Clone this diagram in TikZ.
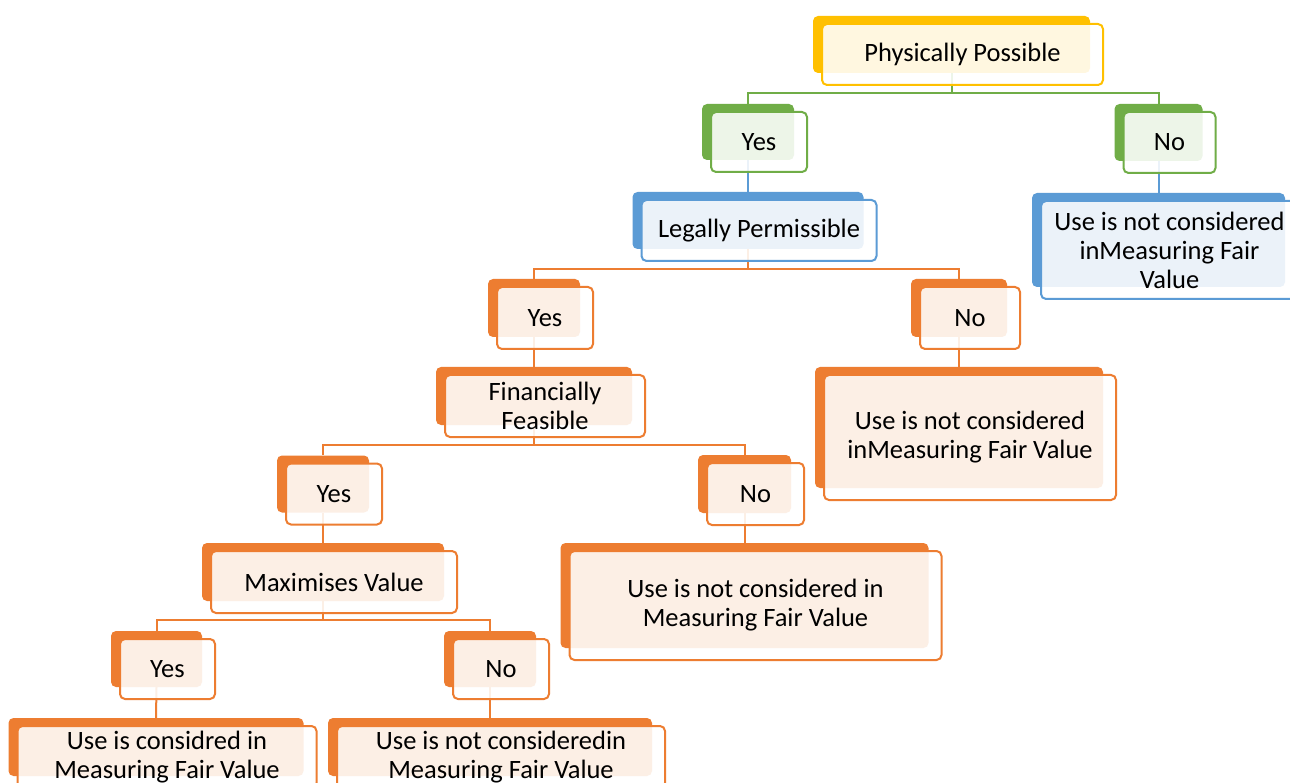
\documentclass[tikz,border=0pt]{standalone}
\usepackage{fontspec}
\setmainfont{Carlito}
\definecolor{cyel}{HTML}{FFC000}
\definecolor{cgrn}{HTML}{70AD47}
\definecolor{cblu}{HTML}{5B9BD5}
\definecolor{corg}{HTML}{ED7D31}
\pgfdeclarelayer{bg}
\pgfsetlayers{bg,main}
\tikzset{
  backbox/.style={draw=none, fill=#1, rounded corners=5pt, inner sep=0pt},
  frontbox/.style={draw=#1, line width=2pt, fill=white, fill opacity=0.88, text opacity=1,
    rounded corners=5pt, inner sep=0pt, align=center, font=\fontsize{26.5}{29}\selectfont},
  link/.style={draw=#1, line width=2pt},
}
\newcommand\tbox[7]{%
  \node[backbox=#2, minimum width=#5pt, minimum height=#6pt] (#1) at (#3,#4) {};
  \node[frontbox=#2, minimum width=#5pt+4pt, minimum height=#6pt+4pt] (#1-f) at ([shift={(11,10)}]#1) {#7};
}
\begin{document}
\begin{tikzpicture}[x=1pt,y=-1pt]
\useasboundingbox (0,0) rectangle (1290,783);
\begin{pgfonlayer}{bg}
\fill[white] (0,0) rectangle (1290,783);
\end{pgfonlayer}
\begin{scope}
\clip (0,0) rectangle (1290,783);
\tbox{pp}{cyel}{951.5}{44.5}{277}{57}{Physically Possible}
\tbox{yes1}{cgrn}{748}{132}{92}{56}{Yes}
\tbox{no1}{cgrn}{1158.5}{132.5}{88}{57}{No}
\tbox{nouse1}{cblu}{1158.5}{240}{253}{94}{Use is not considered\\inMeasuring Fair\\Value}
\tbox{lp}{cblu}{748}{220.5}{231}{57}{Legally Permissible}
\tbox{yes2}{corg}{534}{308}{92}{58}{Yes}
\tbox{no2}{corg}{959}{308}{96}{58}{No}
\tbox{nouse2}{corg}{959}{427.5}{288}{121}{Use is not considered\\inMeasuring Fair Value}
\tbox{ff}{corg}{534}{396}{196}{58}{Financially\\Feasible}
\tbox{yes3}{corg}{323}{484}{92}{57}{Yes}
\tbox{no3}{corg}{744.5}{484}{93}{58}{No}
\tbox{nouse3}{corg}{744.5}{595.5}{368}{105}{Use is not considered in\\Measuring Fair Value}
\tbox{mv}{corg}{323}{572}{242}{58}{Maximises Value}
\tbox{yes4}{corg}{156.5}{659}{91}{56}{Yes}
\tbox{no4}{corg}{490}{659}{92}{56}{No}
\tbox{use4}{corg}{156}{747}{295}{58}{Use is considred in\\Measuring Fair Value}
\tbox{nouse4}{corg}{490}{747}{324}{58}{Use is not consideredin\\Measuring Fair Value}
\end{scope}
\begin{pgfonlayer}{bg}
\coordinate (j1) at (951.5,93);
\draw[link=cgrn] (pp.south) -- (j1) -| (yes1.north);
\draw[link=cgrn] (j1) -| (no1.north);
\draw[link=cblu] (yes1.south) -- (lp.north);
\draw[link=cblu] (no1.south) -- (nouse1.north);
\coordinate (j2) at (748,269);
\draw[link=corg] (lp.south) -- (j2) -| (yes2.north);
\draw[link=corg] (j2) -| (no2.north);
\draw[link=corg] (yes2.south) -- (ff.north);
\draw[link=corg] (no2.south) -- (nouse2.north);
\coordinate (j3) at (534,445);
\draw[link=corg] (ff.south) -- (j3) -| (yes3.north);
\draw[link=corg] (j3) -| (no3.north);
\draw[link=corg] (yes3.south) -- (mv.north);
\draw[link=corg] (no3.south) -- (nouse3.north);
\coordinate (j4) at (323,620);
\draw[link=corg] (mv.south) -- (j4) -| (yes4.north);
\draw[link=corg] (j4) -| (no4.north);
\draw[link=corg] (yes4.south) -- (use4.north);
\draw[link=corg] (no4.south) -- (nouse4.north);
\end{pgfonlayer}
\end{tikzpicture}
\end{document}
